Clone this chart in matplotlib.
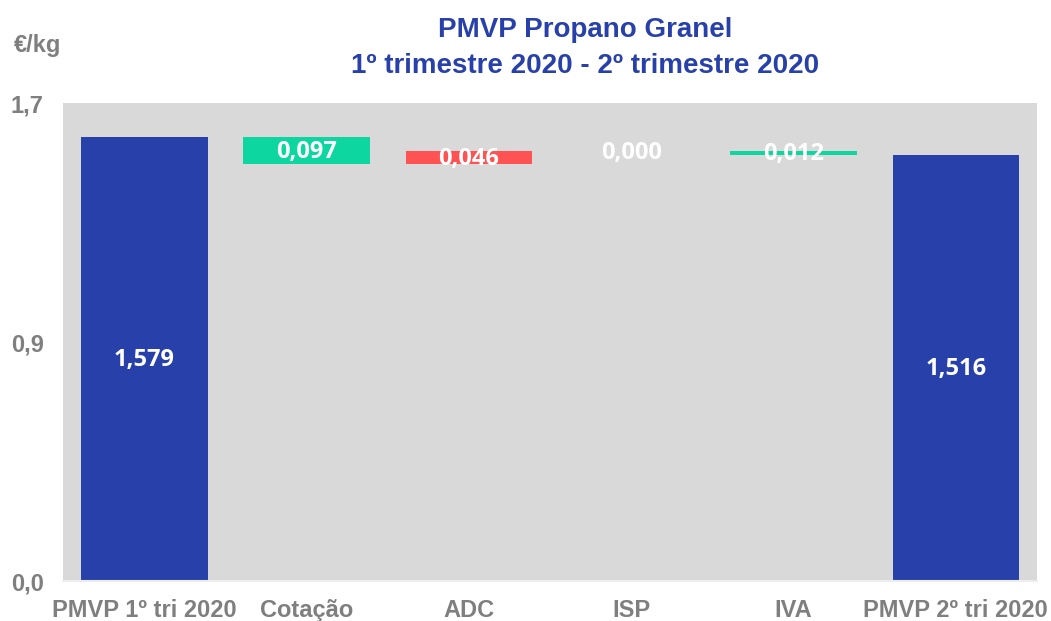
import matplotlib
matplotlib.use('Agg')
import matplotlib.pyplot as plt

categories = ['PMVP 1º tri 2020', 'Cotação', 'ADC', 'ISP', 'IVA', 'PMVP 2º tri 2020']
start_value = 1.579
end_value = 1.516
deltas = [-0.097, 0.046, 0.000, -0.012]
value_labels = ['1,579', '0,097', '0,046', '0,000', '0,012', '1,516']
yticks = [0.0, 0.85, 1.7]
ytick_labels = ['0,0', '0,9', '1,7']

blue = '#2840AA'
green = '#0ED6A0'
red = '#FF5252'
gray_txt = '#7F7F7F'

fig = plt.figure(figsize=(10.51, 6.21), dpi=100)
ax = fig.add_axes([0.06, 0.0644, 0.9267, 0.7697])
ax.set_facecolor('#D9D9D9')

x = list(range(len(categories)))
width = 0.78

# total bars
ax.bar(x[0], start_value, width=width, color=blue)
ax.bar(x[-1], end_value, width=width, color=blue)

# floating delta bars
level = start_value
mids = [start_value / 2]
for i, d in enumerate(deltas):
    new = level + d
    lo, hi = min(level, new), max(level, new)
    col = green if d < 0 else red
    if abs(d) < 1e-9:
        mids.append(level)
    else:
        ax.bar(x[i + 1], hi - lo, bottom=lo, width=width, color=col)
        mids.append((lo + hi) / 2)
    level = new
mids.append(end_value / 2)

for xi, m, lab in zip(x, mids, value_labels):
    ax.text(xi, m - 0.005, lab, ha='center', va='center', color='white',
            fontsize=17, fontweight='bold', family=['Open Sans', 'DejaVu Sans'])

ax.set_xlim(-0.5, len(categories) - 0.5)
ax.set_ylim(0, 1.7)
ax.set_yticks(yticks)
ax.set_yticklabels(ytick_labels)
ax.set_xticks(x)
ax.set_xticklabels(categories)
for lab in ax.get_xticklabels():
    lab.set_family(['Liberation Sans Narrow', 'Liberation Sans', 'DejaVu Sans'])
    lab.set_fontsize(17)
    lab.set_fontweight('bold')
    lab.set_color(gray_txt)
for lab in ax.get_yticklabels():
    lab.set_family(['Liberation Sans', 'DejaVu Sans'])
    lab.set_fontsize(17)
    lab.set_fontweight('bold')
    lab.set_color(gray_txt)
ax.tick_params(axis='both', length=0)
ax.tick_params(axis='x', pad=13)
ax.tick_params(axis='y', pad=14)
for s in ['top', 'right', 'left']:
    ax.spines[s].set_visible(False)
ax.spines['bottom'].set_color('#EDEDED')
ax.spines['bottom'].set_linewidth(1.5)

fig.text(0.557, 0.94, 'PMVP Propano Granel', ha='center', va='baseline',
         color=blue, fontsize=20, fontweight='bold', family=['Liberation Sans', 'DejaVu Sans'])
fig.text(0.557, 0.882, '1º trimestre 2020 - 2º trimestre 2020', ha='center', va='baseline',
         color=blue, fontsize=20, fontweight='bold', family=['Liberation Sans', 'DejaVu Sans'])
fig.text(0.036, 0.926, '€/kg', ha='center', va='center', color=gray_txt,
         fontsize=17, fontweight='bold', family=['Liberation Sans', 'DejaVu Sans'])

fig.savefig('out.png', dpi=100)
